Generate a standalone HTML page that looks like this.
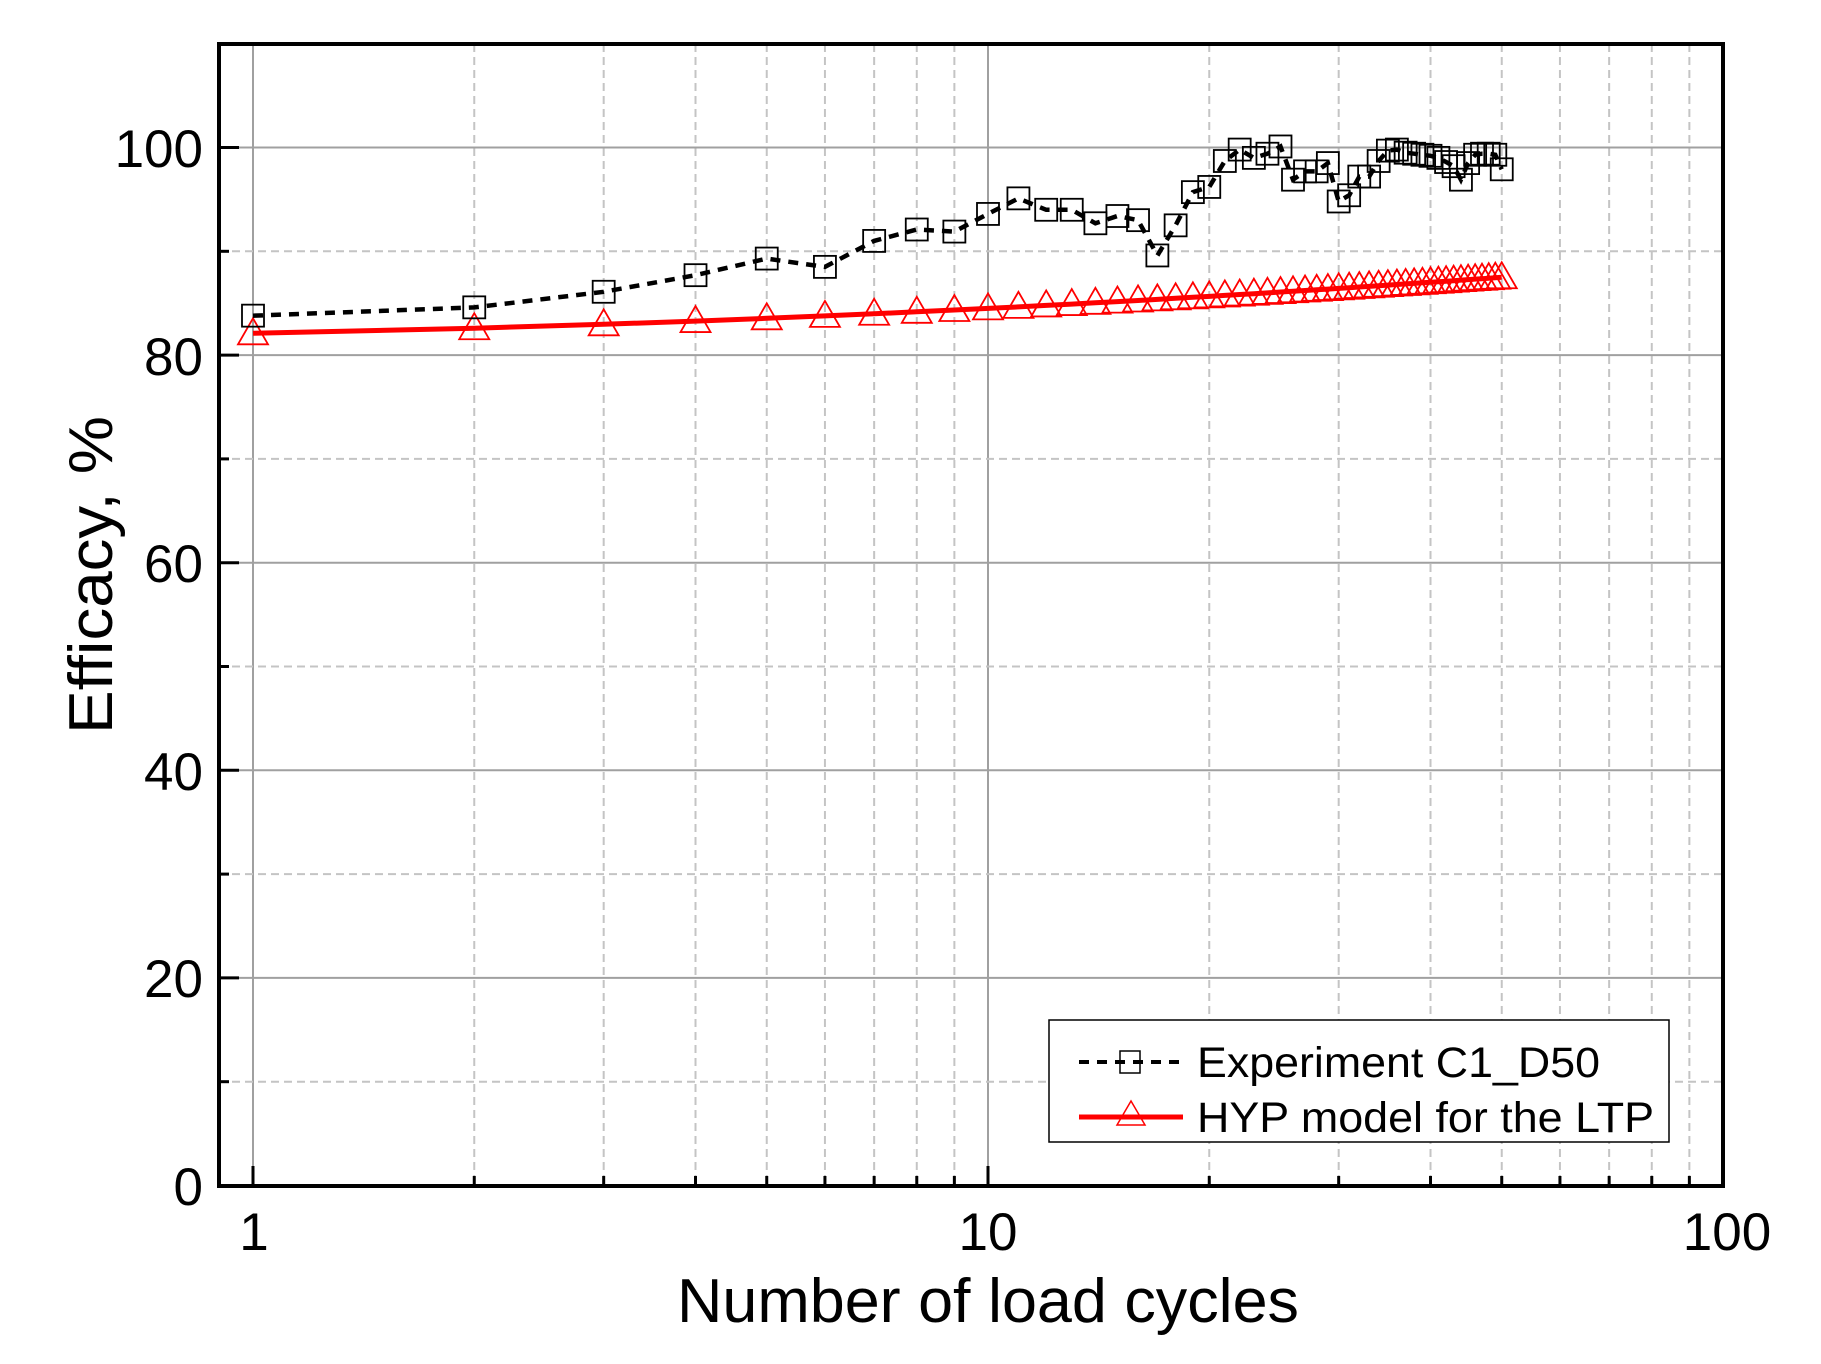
<!DOCTYPE html>
<html><head><meta charset="utf-8"><style>
html,body{margin:0;padding:0;background:#fff;}
svg{display:block;font-family:"Liberation Sans",Arial,sans-serif;}
</style></head><body>
<svg id="s" width="1821" height="1364" viewBox="0 0 1821 1364" xmlns="http://www.w3.org/2000/svg">
<rect width="1821" height="1364" fill="#fff"/>
<g id="grid"></g>
<g id="ticks"></g>
<g id="series"></g>
<rect x="219" y="44" width="1504" height="1142" fill="none" stroke="#000" stroke-width="4"/>
<g font-size="53" fill="#000" text-anchor="end" id="ylab">
<text x="203" y="1205">0</text>
<text x="203" y="997">20</text>
<text x="203" y="790">40</text>
<text x="203" y="582">60</text>
<text x="203" y="375">80</text>
<text x="203" y="167">100</text>
</g>
<g font-size="53" fill="#000" text-anchor="middle">
<text x="254" y="1250">1</text>
<text x="988" y="1250">10</text>
<text x="1727" y="1250">100</text>
</g>
<text x="988" y="1322" font-size="62" text-anchor="middle" textLength="622" lengthAdjust="spacingAndGlyphs">Number of load cycles</text>
<text transform="translate(112,575) rotate(-90)" font-size="62" text-anchor="middle" textLength="318" lengthAdjust="spacingAndGlyphs">Efficacy, %</text>
<rect x="1049" y="1020" width="620" height="122" fill="#fff" stroke="#000" stroke-width="1.5"/>
<line x1="1079" y1="1062" x2="1183" y2="1062" stroke="#000" stroke-width="4" stroke-dasharray="10,8"/>
<rect x="1120" y="1051" width="20" height="22" fill="none" stroke="#000" stroke-width="1.5"/>
<text x="1197" y="1077" font-size="43" textLength="403" lengthAdjust="spacingAndGlyphs">Experiment C1_D50</text>
<line x1="1079" y1="1117" x2="1183" y2="1117" stroke="#f00" stroke-width="5"/>
<polygon points="1131,1101 1117,1125 1145,1125" fill="none" stroke="#f00" stroke-width="1.5"/>
<text x="1197" y="1132" font-size="43" textLength="457" lengthAdjust="spacingAndGlyphs">HYP model for the LTP</text>
</svg>
<script>
var NS="http://www.w3.org/2000/svg";
function X(v){return 253+735*Math.log10(v);}
function Y(v){return 1185.5-10.38*v;}
function el(p,t,a){var e=document.createElementNS(NS,t);for(var k in a)e.setAttribute(k,a[k]);p.appendChild(e);return e;}
var g=document.getElementById("grid"),tk=document.getElementById("ticks"),se=document.getElementById("series");
// vertical grid
[1,2,3,4,5,6,7,8,9,10,20,30,40,50,60,70,80,90,100].forEach(function(v){
 var x=X(v),maj=(v==1||v==10||v==100);
 if(v!=100) el(g,"line",{x1:x,y1:44,x2:x,y2:1186,stroke:maj?"#a0a0a0":"#c4c4c4","stroke-width":2,"stroke-dasharray":maj?"none":"8,5"});
 el(tk,"line",{x1:x,y1:1186,x2:x,y2:maj?1166:1176,stroke:"#000","stroke-width":3});
});
for(var v=0;v<=110;v+=10){
 var y=Y(v),maj=(v%20==0);
 if(v>0&&v<110) el(g,"line",{x1:219,y1:y,x2:1723,y2:y,stroke:maj?"#a0a0a0":"#c4c4c4","stroke-width":2,"stroke-dasharray":maj?"none":"8,5"});
 el(tk,"line",{x1:219,y1:y,x2:maj?239:229,y2:y,stroke:"#000","stroke-width":3});
}
var ex=[83.8,84.6,86.1,87.7,89.3,88.5,91.0,92.1,91.9,93.6,95.1,94.0,94.0,92.7,93.4,93.0,89.6,92.5,95.7,96.2,98.7,99.8,99.0,99.4,100.1,96.9,97.7,97.7,98.5,94.8,95.4,97.2,97.2,98.7,99.7,99.8,99.5,99.4,99.3,99.2,99.0,98.6,98.2,96.9,98.5,99.3,99.4,99.4,99.3,97.9];
// model
var mp=[],tri=[];
for(var i=1;i<=50;i++){var L=Math.log10(i);var m=82.1+1.287*L+1.113*L*L;mp.push(X(i).toFixed(1)+","+Y(m).toFixed(1));tri.push([X(i),Y(m)]);}
el(se,"polyline",{points:mp.join(" "),fill:"none",stroke:"#f00","stroke-width":5});
tri.forEach(function(p){var x=p[0],y=p[1]+1;el(se,"polygon",{points:x+","+(y-16)+" "+(x-15)+","+(y+10)+" "+(x+15)+","+(y+10),fill:"none",stroke:"#f00","stroke-width":1.8});});
var ep=ex.map(function(v,i){return X(i+1).toFixed(1)+","+Y(v).toFixed(1);});
el(se,"polyline",{points:ep.join(" "),fill:"none",stroke:"#000","stroke-width":4.5,"stroke-dasharray":"10,8"});
ex.forEach(function(v,i){var x=X(i+1),y=Y(v);el(se,"rect",{x:x-11,y:y-11,width:22,height:22,fill:"none",stroke:"#000","stroke-width":1.8});});
</script>
</body></html>
